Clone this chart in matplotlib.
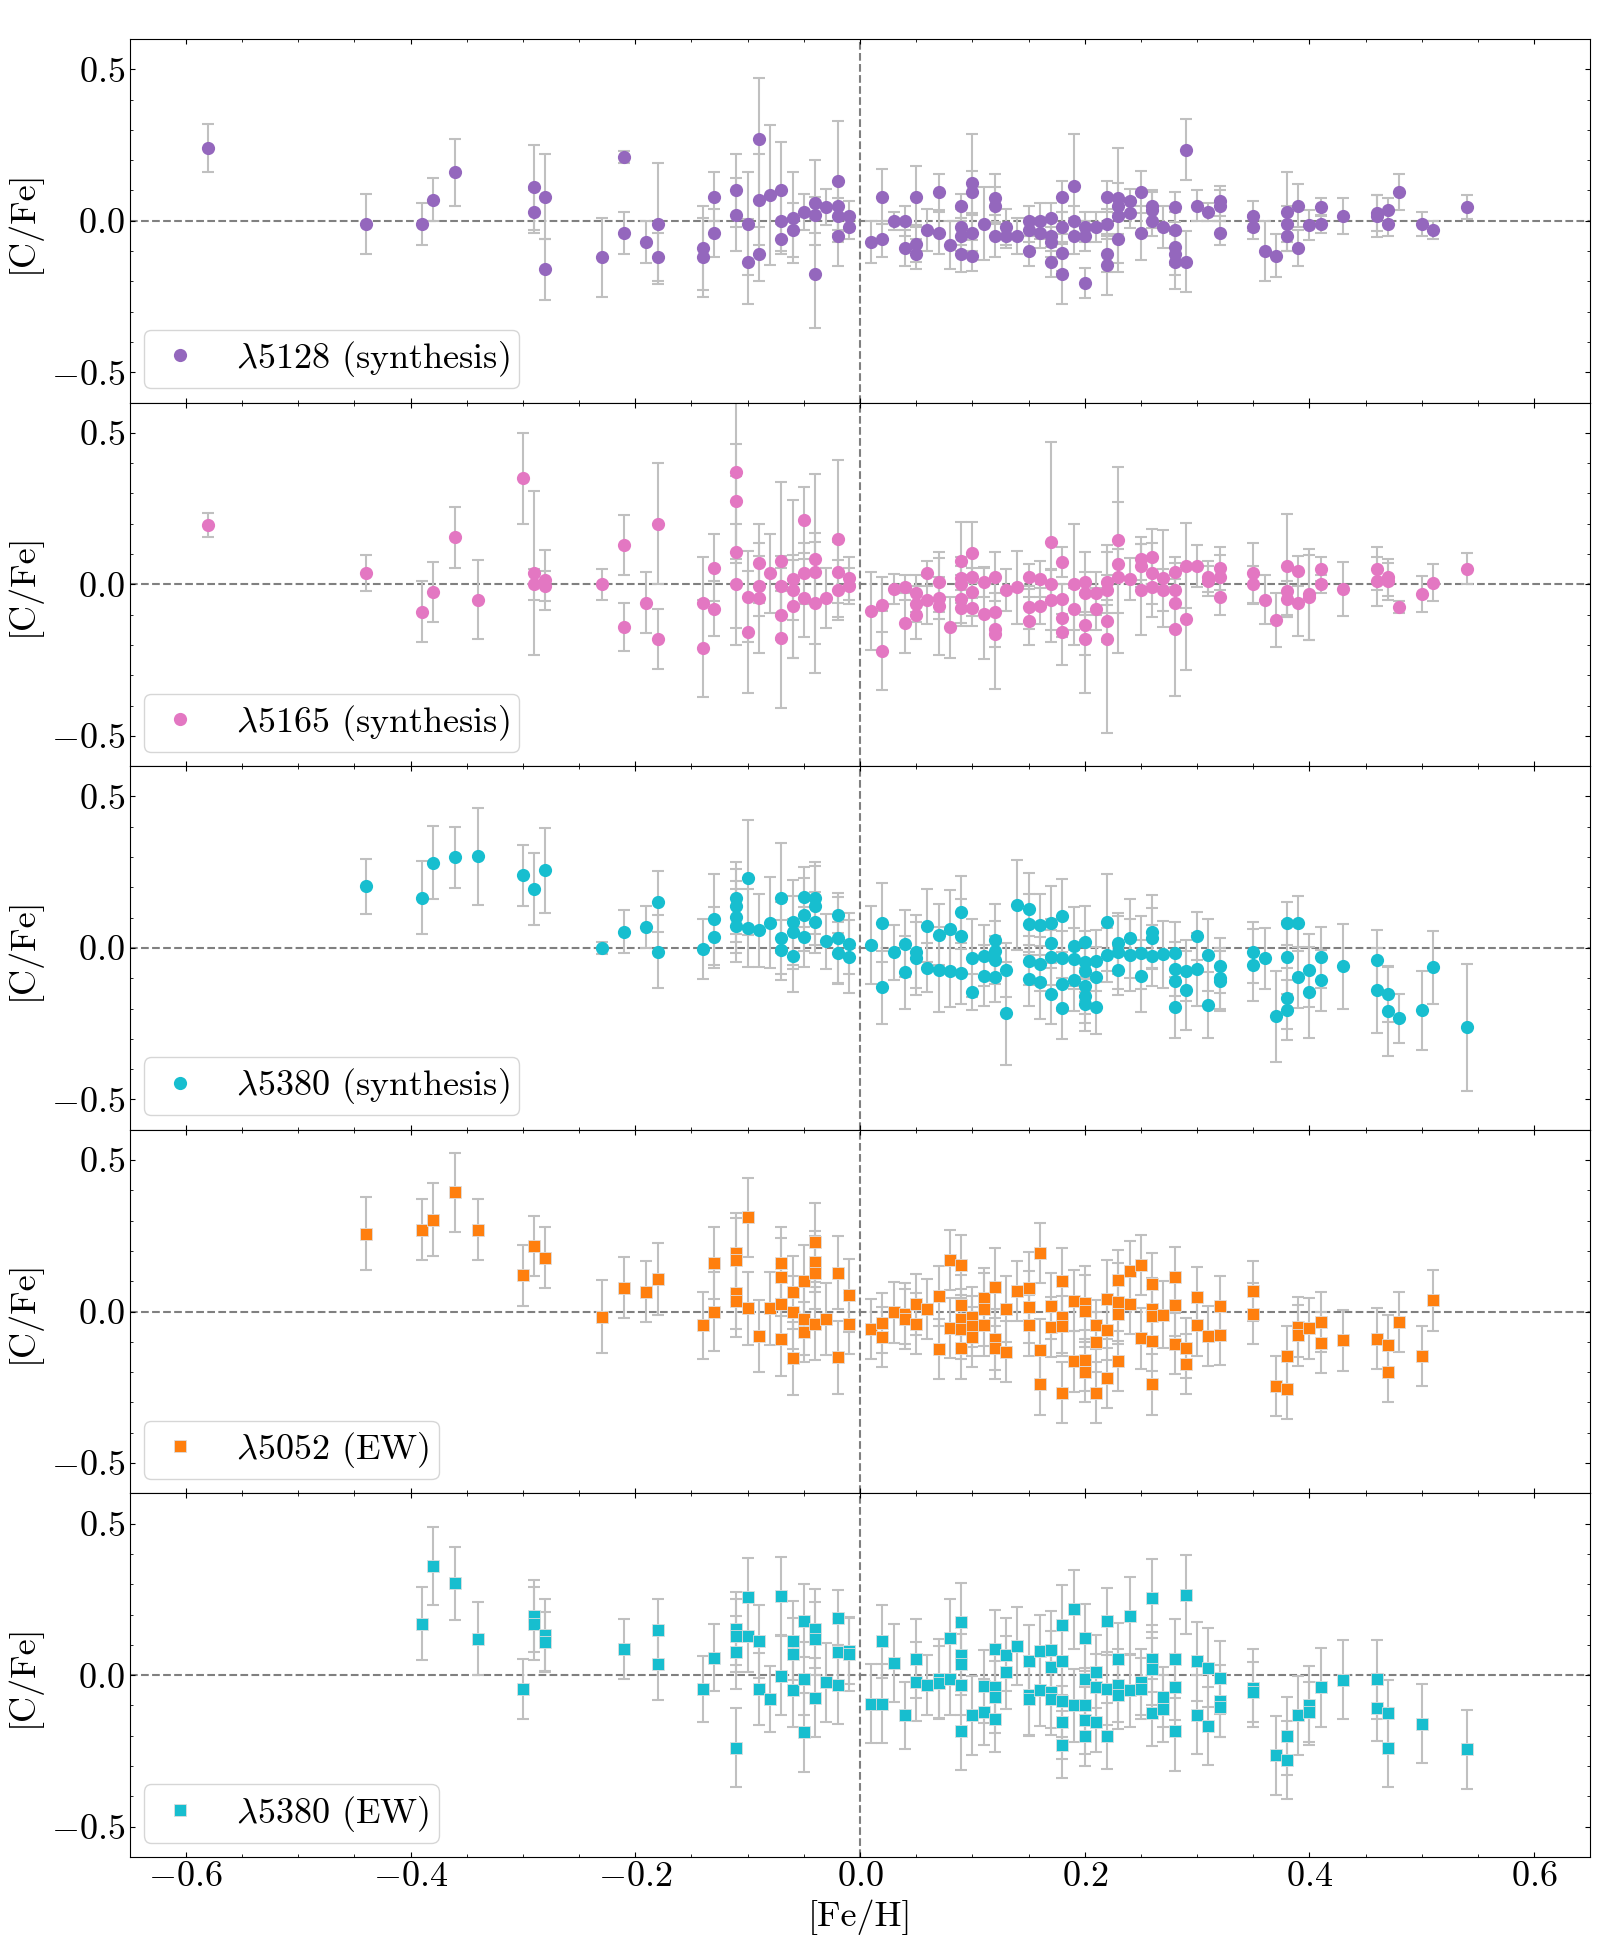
import matplotlib
matplotlib.use('Agg')
import matplotlib.pyplot as plt
from matplotlib.ticker import MultipleLocator

plt.rcParams['font.family'] = 'serif'
plt.rcParams['font.serif'] = ['cmr10', 'DejaVu Serif']
plt.rcParams['mathtext.fontset'] = 'cm'
plt.rcParams['axes.formatter.use_mathtext'] = True
plt.rcParams['axes.unicode_minus'] = True

# ---------------- Panel 1: lambda 5128 (synthesis) ----------------
x1 = [-0.58, -0.44, -0.39, -0.38, -0.36, -0.29, -0.29, -0.28, -0.28, -0.23, -0.21, -0.21, -0.19, -0.18, -0.18,
      -0.14, -0.14, -0.13, -0.13, -0.11, -0.11, -0.10, -0.10, -0.09, -0.09, -0.09, -0.08, -0.07, -0.07, -0.07,
      -0.06, -0.06, -0.05, -0.04, -0.04, -0.04, -0.03, -0.02, -0.02, -0.02, -0.02, -0.01, -0.01,
      0.01, 0.02, 0.02, 0.03, 0.04, 0.04, 0.05, 0.05, 0.05, 0.06, 0.07, 0.07, 0.08, 0.09, 0.09, 0.09, 0.09,
      0.10, 0.10, 0.10, 0.10, 0.11, 0.12, 0.12, 0.12, 0.13, 0.13, 0.14, 0.15, 0.15, 0.15, 0.16, 0.16,
      0.17, 0.17, 0.17, 0.17, 0.18, 0.18, 0.18, 0.18, 0.19, 0.19, 0.19, 0.20, 0.20, 0.20, 0.21,
      0.22, 0.22, 0.22, 0.22, 0.23, 0.23, 0.23, 0.23, 0.24, 0.24, 0.25, 0.25, 0.26, 0.26, 0.26, 0.27,
      0.28, 0.28, 0.28, 0.28, 0.28, 0.29, 0.29, 0.30, 0.31, 0.32, 0.32, 0.32, 0.35, 0.35, 0.36, 0.37,
      0.38, 0.38, 0.38, 0.39, 0.39, 0.40, 0.41, 0.41, 0.43, 0.46, 0.46, 0.47, 0.47, 0.48, 0.50, 0.51, 0.54]
y1 = [0.24, -0.01, -0.01, 0.07, 0.16, 0.11, 0.03, 0.08, -0.16, -0.12, 0.21, -0.04, -0.07, -0.01, -0.12,
      -0.09, -0.12, 0.08, -0.04, 0.10, 0.02, -0.01, -0.135, 0.27, 0.07, -0.11, 0.085, 0.10, 0.0, -0.06,
      0.01, -0.03, 0.03, 0.06, 0.02, -0.175, 0.045, 0.13, 0.05, 0.015, -0.05, 0.015, -0.02,
      -0.07, 0.08, -0.06, 0.0, 0.0, -0.09, 0.08, -0.075, -0.11, -0.03, 0.095, -0.04, -0.08, 0.05, -0.02, -0.05, -0.11,
      0.125, 0.095, -0.04, -0.115, -0.01, 0.075, 0.05, -0.05, -0.02, -0.05, -0.05, 0.0, -0.03, -0.10, 0.0, -0.04,
      0.01, -0.05, -0.07, -0.135, 0.08, -0.02, -0.105, -0.175, 0.115, 0.0, -0.05, -0.02, -0.05, -0.205, -0.02,
      0.08, -0.01, -0.11, -0.145, 0.075, 0.05, 0.015, -0.06, 0.065, 0.025, 0.095, -0.04, 0.05, 0.035, 0.0, -0.02,
      0.045, -0.03, -0.085, -0.11, -0.135, 0.235, -0.135, 0.05, 0.03, 0.065, 0.05, -0.04, 0.015, -0.02, -0.10, -0.115,
      0.03, -0.01, -0.05, 0.05, -0.09, -0.015, 0.045, -0.01, 0.015, 0.025, 0.015, 0.035, -0.01, 0.095, -0.01, -0.03, 0.045]
e1 = [0.08, 0.10, 0.07, 0.07, 0.11, 0.14, 0.07, 0.14, 0.10, 0.13, 0.02, 0.07, 0.07, 0.20, 0.08,
      0.14, 0.13, 0.08, 0.08, 0.12, 0.12, 0.17, 0.14, 0.20, 0.15, 0.09, 0.23, 0.16, 0.10, 0.05,
      0.15, 0.09, 0.06, 0.14, 0.06, 0.18, 0.06, 0.20, 0.08, 0.06, 0.10, 0.05, 0.04,
      0.07, 0.09, 0.06, 0.03, 0.05, 0.06, 0.10, 0.06, 0.05, 0.07, 0.06, 0.07, 0.08, 0.04, 0.06, 0.05, 0.06,
      0.16, 0.07, 0.06, 0.05, 0.12, 0.08, 0.06, 0.07, 0.06, 0.04, 0.06, 0.05, 0.04, 0.05, 0.06, 0.05,
      0.05, 0.05, 0.05, 0.05, 0.05, 0.05, 0.06, 0.10, 0.17, 0.05, 0.06, 0.05, 0.05, 0.05, 0.05,
      0.05, 0.05, 0.06, 0.10, 0.05, 0.19, 0.06, 0.11, 0.04, 0.05, 0.07, 0.09, 0.05, 0.06, 0.05, 0.07,
      0.05, 0.06, 0.06, 0.07, 0.09, 0.10, 0.10, 0.05, 0.03, 0.05, 0.05, 0.04, 0.05, 0.04, 0.10, 0.07,
      0.13, 0.06, 0.05, 0.07, 0.06, 0.05, 0.03, 0.03, 0.06, 0.06, 0.07, 0.04, 0.04, 0.06, 0.04, 0.03, 0.04]

# ---------------- Panel 2: lambda 5165 (synthesis) ----------------
x2 = [-0.58, -0.44, -0.39, -0.38, -0.36, -0.34, -0.30, -0.29, -0.29, -0.28, -0.28, -0.23, -0.21, -0.21, -0.19, -0.18, -0.18,
      -0.14, -0.14, -0.13, -0.13, -0.11, -0.11, -0.11, -0.11, -0.10, -0.10, -0.09, -0.09, -0.09, -0.08,
      -0.07, -0.07, -0.07, -0.07, -0.06, -0.06, -0.06, -0.05, -0.05, -0.05, -0.04, -0.04, -0.04, -0.03,
      -0.02, -0.02, -0.02, -0.01, -0.01,
      0.01, 0.02, 0.02, 0.03, 0.04, 0.04, 0.05, 0.05, 0.05, 0.06, 0.06, 0.07, 0.07, 0.07, 0.08,
      0.09, 0.09, 0.09, 0.09, 0.09, 0.10, 0.10, 0.10, 0.10, 0.11, 0.11, 0.12, 0.12, 0.12, 0.12, 0.13, 0.14,
      0.15, 0.15, 0.15, 0.16, 0.16, 0.17, 0.17, 0.17, 0.18, 0.18, 0.18, 0.18, 0.19, 0.19,
      0.20, 0.20, 0.20, 0.20, 0.21, 0.21, 0.22, 0.22, 0.22, 0.22, 0.23, 0.23, 0.23, 0.24,
      0.25, 0.25, 0.25, 0.26, 0.26, 0.26, 0.27, 0.27, 0.28, 0.28, 0.28, 0.28, 0.29, 0.29, 0.30, 0.31, 0.31,
      0.32, 0.32, 0.32, 0.35, 0.35, 0.36, 0.37, 0.38, 0.38, 0.38, 0.39, 0.39, 0.40, 0.40, 0.41, 0.41,
      0.43, 0.46, 0.46, 0.47, 0.47, 0.48, 0.50, 0.51, 0.54]
y2 = [0.195, 0.037, -0.09, -0.025, 0.155, -0.05, 0.35, 0.037, 0.0, 0.015, -0.005, 0.0, 0.13, -0.14, -0.06, 0.20, -0.18,
      -0.06, -0.21, 0.055, -0.08, 0.37, 0.275, 0.107, 0.0, -0.04, -0.157, 0.07, -0.005, -0.045, 0.036,
      0.077, -0.005, -0.102, -0.177, 0.018, -0.018, -0.072, 0.212, 0.036, -0.045, 0.083, 0.04, -0.062, -0.045,
      0.151, 0.04, -0.018, 0.02, -0.005,
      -0.088, -0.067, -0.219, -0.015, -0.01, -0.127, -0.03, -0.065, -0.101, 0.036, -0.052, 0.008, -0.045, -0.072, -0.142,
      0.077, 0.02, 0.0, -0.048, -0.078, 0.105, 0.026, -0.025, -0.078, 0.008, -0.097, 0.026, -0.09, -0.147, -0.164, -0.018, -0.01,
      0.026, -0.076, -0.121, 0.018, -0.072, 0.14, 0.0, -0.052, 0.075, -0.048, -0.112, -0.156, 0.0, -0.082,
      0.008, -0.03, -0.134, -0.18, -0.03, -0.082, 0.007, -0.018, -0.121, -0.18, 0.146, 0.067, 0.023, 0.018,
      0.085, 0.062, -0.018, 0.092, 0.036, -0.007, 0.02, -0.018, 0.04, -0.018, -0.062, -0.148, 0.062, -0.114, 0.06, 0.026, 0.012,
      0.053, 0.026, -0.042, 0.036, 0.0, -0.05, -0.117, 0.062, -0.021, -0.048, 0.045, -0.06, -0.032, -0.043, 0.052, 0.0,
      -0.015, 0.052, 0.01, 0.023, 0.01, -0.074, -0.031, 0.006, 0.052]
e2 = [0.04, 0.06, 0.10, 0.10, 0.10, 0.13, 0.15, 0.27, 0.05, 0.10, 0.05, 0.05, 0.10, 0.08, 0.10, 0.20, 0.10,
      0.15, 0.16, 0.11, 0.09, 0.30, 0.19, 0.25, 0.20, 0.15, 0.20, 0.13, 0.10, 0.18, 0.13,
      0.26, 0.10, 0.08, 0.23, 0.26, 0.10, 0.17, 0.11, 0.10, 0.13, 0.28, 0.10, 0.23, 0.10,
      0.26, 0.10, 0.10, 0.07, 0.06,
      0.13, 0.09, 0.13, 0.05, 0.04, 0.10, 0.06, 0.06, 0.08, 0.04, 0.08, 0.10, 0.07, 0.16, 0.10,
      0.13, 0.07, 0.06, 0.08, 0.06, 0.10, 0.07, 0.08, 0.06, 0.05, 0.15, 0.08, 0.06, 0.06, 0.18, 0.07, 0.12,
      0.04, 0.07, 0.08, 0.06, 0.06, 0.33, 0.05, 0.10, 0.05, 0.05, 0.06, 0.11, 0.20, 0.07,
      0.10, 0.07, 0.10, 0.18, 0.07, 0.07, 0.10, 0.05, 0.07, 0.31, 0.24, 0.05, 0.25, 0.07,
      0.07, 0.07, 0.15, 0.09, 0.10, 0.10, 0.16, 0.07, 0.05, 0.05, 0.08, 0.22, 0.14, 0.17, 0.07, 0.05, 0.05,
      0.07, 0.07, 0.06, 0.10, 0.06, 0.08, 0.09, 0.17, 0.08, 0.06, 0.05, 0.11, 0.15, 0.14, 0.04, 0.03,
      0.09, 0.07, 0.08, 0.06, 0.06, 0.02, 0.06, 0.06, 0.05]

# ---------------- Panel 3: lambda 5380 (synthesis) ----------------
x3 = [-0.44, -0.39, -0.38, -0.36, -0.34, -0.30, -0.29, -0.28, -0.23, -0.21, -0.19, -0.18, -0.18,
      -0.14, -0.13, -0.13, -0.11, -0.11, -0.11, -0.11, -0.10, -0.10, -0.09, -0.08, -0.07, -0.07, -0.07,
      -0.06, -0.06, -0.06, -0.05, -0.05, -0.05, -0.04, -0.04, -0.04, -0.03, -0.02, -0.02, -0.02, -0.01, -0.01,
      0.01, 0.02, 0.02, 0.03, 0.04, 0.04, 0.05, 0.05, 0.06, 0.06, 0.07, 0.07, 0.08, 0.08, 0.09, 0.09, 0.09,
      0.10, 0.10, 0.11, 0.11, 0.12, 0.12, 0.12, 0.12, 0.13, 0.13, 0.14, 0.15, 0.15, 0.15, 0.15,
      0.16, 0.16, 0.16, 0.17, 0.17, 0.17, 0.17, 0.18, 0.18, 0.18, 0.18, 0.19, 0.19, 0.19,
      0.20, 0.20, 0.20, 0.20, 0.20, 0.20, 0.21, 0.21, 0.21, 0.22, 0.22, 0.23, 0.23, 0.23, 0.24, 0.24,
      0.25, 0.25, 0.26, 0.26, 0.26, 0.27, 0.28, 0.28, 0.28, 0.28, 0.29, 0.29, 0.30, 0.30, 0.31, 0.31,
      0.32, 0.32, 0.32, 0.35, 0.35, 0.36, 0.37, 0.38, 0.38, 0.38, 0.38, 0.39, 0.39, 0.40, 0.40, 0.41, 0.41,
      0.43, 0.46, 0.46, 0.47, 0.47, 0.48, 0.50, 0.51, 0.54]
y3 = [0.203, 0.166, 0.282, 0.299, 0.303, 0.24, 0.195, 0.257, 0.0, 0.054, 0.07, 0.153, -0.012,
      -0.003, 0.095, 0.035, 0.165, 0.14, 0.102, 0.074, 0.232, 0.066, 0.058, 0.083, 0.165, 0.033, -0.007,
      0.085, 0.052, -0.025, 0.168, 0.11, 0.036, 0.165, 0.139, 0.085, 0.022, 0.109, 0.032, -0.015, 0.014, -0.029,
      0.01, 0.083, -0.13, -0.014, 0.014, -0.08, -0.012, -0.034, 0.074, -0.065, 0.044, -0.072, 0.062, -0.075, 0.118, 0.041, -0.084,
      -0.033, -0.146, -0.025, -0.091, 0.026, -0.01, -0.039, -0.097, -0.072, -0.216, 0.142, 0.129, 0.078, -0.042, -0.103,
      0.077, -0.053, -0.113, 0.083, 0.015, -0.031, -0.151, 0.107, -0.034, -0.118, -0.199, 0.006, -0.035, -0.107,
      0.019, -0.045, -0.075, -0.127, -0.157, -0.185, -0.042, -0.097, -0.194, 0.085, -0.023, 0.015, -0.014, -0.074, 0.032, -0.023,
      -0.015, -0.092, 0.054, 0.032, -0.025, -0.021, -0.015, -0.069, -0.11, -0.196, -0.075, -0.14, 0.039, -0.07, -0.023, -0.188,
      -0.058, -0.10, -0.109, -0.014, -0.056, -0.034, -0.226, 0.081, -0.031, -0.166, -0.204, 0.081, -0.097, -0.074, -0.146, -0.031, -0.107,
      -0.06, -0.041, -0.139, -0.153, -0.208, -0.232, -0.206, -0.064, -0.262]
e3 = [0.09, 0.12, 0.12, 0.10, 0.16, 0.10, 0.12, 0.14, 0.02, 0.07, 0.07, 0.10, 0.12,
      0.10, 0.15, 0.10, 0.12, 0.12, 0.12, 0.12, 0.19, 0.13, 0.12, 0.15, 0.18, 0.12, 0.10,
      0.14, 0.12, 0.12, 0.10, 0.12, 0.10, 0.12, 0.13, 0.10, 0.09, 0.06, 0.15, 0.10, 0.10, 0.12,
      0.13, 0.13, 0.12, 0.09, 0.11, 0.12, 0.12, 0.12, 0.12, 0.08, 0.10, 0.14, 0.13, 0.12, 0.12, 0.12, 0.10,
      0.13, 0.06, 0.10, 0.10, 0.12, 0.10, 0.08, 0.08, 0.09, 0.17, 0.15, 0.12, 0.10, 0.08, 0.09,
      0.10, 0.09, 0.12, 0.12, 0.08, 0.09, 0.10, 0.12, 0.09, 0.09, 0.10, 0.13, 0.10, 0.10,
      0.12, 0.10, 0.10, 0.09, 0.09, 0.09, 0.10, 0.10, 0.09, 0.16, 0.09, 0.10, 0.12, 0.08, 0.13, 0.12,
      0.12, 0.12, 0.12, 0.10, 0.10, 0.11, 0.10, 0.09, 0.09, 0.10, 0.10, 0.13, 0.08, 0.12, 0.12, 0.11,
      0.09, 0.10, 0.10, 0.10, 0.12, 0.10, 0.15, 0.07, 0.12, 0.10, 0.10, 0.09, 0.10, 0.12, 0.15, 0.10, 0.10,
      0.14, 0.10, 0.14, 0.09, 0.15, 0.08, 0.13, 0.12, 0.21]

# ---------------- Panel 4: lambda 5052 (EW) ----------------
x4 = [-0.44, -0.39, -0.38, -0.36, -0.34, -0.30, -0.29, -0.28, -0.23, -0.21, -0.19, -0.18,
      -0.14, -0.13, -0.13, -0.11, -0.11, -0.11, -0.11, -0.10, -0.10, -0.09, -0.08, -0.07, -0.07, -0.07, -0.07,
      -0.06, -0.06, -0.06, -0.05, -0.05, -0.05, -0.04, -0.04, -0.04, -0.04, -0.03, -0.02, -0.02, -0.01, -0.01,
      0.01, 0.02, 0.02, 0.03, 0.04, 0.04, 0.05, 0.05, 0.06, 0.07, 0.07, 0.08, 0.08,
      0.09, 0.09, 0.09, 0.09, 0.09, 0.10, 0.10, 0.10, 0.11, 0.11, 0.11, 0.12, 0.12, 0.12, 0.13, 0.13, 0.14,
      0.15, 0.15, 0.15, 0.16, 0.16, 0.16, 0.17, 0.17, 0.18, 0.18, 0.18, 0.18, 0.19, 0.19,
      0.20, 0.20, 0.20, 0.20, 0.21, 0.21, 0.21, 0.22, 0.22, 0.22, 0.23, 0.23, 0.23, 0.23, 0.24, 0.24,
      0.25, 0.25, 0.26, 0.26, 0.26, 0.26, 0.26, 0.27, 0.28, 0.28, 0.28, 0.29, 0.29, 0.30, 0.30, 0.31,
      0.32, 0.32, 0.35, 0.35, 0.37, 0.38, 0.38, 0.39, 0.39, 0.40, 0.41, 0.41, 0.43, 0.46, 0.47, 0.47,
      0.48, 0.50, 0.51]
y4 = [0.257, 0.27, 0.303, 0.394, 0.27, 0.12, 0.216, 0.178, -0.017, 0.079, 0.066, 0.108,
      -0.045, 0.16, 0.0, 0.194, 0.17, 0.062, 0.035, 0.311, 0.011, -0.081, 0.011, 0.16, 0.114, 0.026, -0.091,
      0.064, -0.003, -0.154, 0.101, -0.024, -0.067, 0.229, 0.165, 0.128, -0.04, -0.024, 0.128, -0.151, 0.054, -0.04,
      -0.058, -0.037, -0.084, -0.003, -0.007, -0.024, 0.024, -0.04, 0.009, 0.052, -0.123, 0.17, -0.054,
      0.154, 0.022, -0.024, -0.056, -0.121, -0.018, -0.047, -0.084, 0.044, 0.007, -0.045, 0.081, -0.092, -0.121, 0.008, -0.132, 0.068,
      0.077, 0.015, -0.045, 0.194, -0.126, -0.24, 0.018, -0.051, 0.101, -0.018, -0.047, -0.268, 0.036, -0.164,
      0.029, 0.002, -0.161, -0.20, -0.043, -0.101, -0.268, 0.04, -0.06, -0.219, 0.103, 0.032, -0.007, -0.163, 0.134, 0.026,
      0.154, -0.088, 0.092, 0.01, -0.015, -0.097, -0.24, -0.01, 0.114, 0.021, -0.106, -0.12, -0.173, 0.047, -0.045, -0.081,
      0.018, -0.077, 0.068, -0.007, -0.246, -0.146, -0.256, -0.051, -0.078, -0.055, -0.034, -0.103, -0.095, -0.089, -0.11, -0.20,
      -0.034, -0.146, 0.037]
e4 = [0.12, 0.10, 0.12, 0.13, 0.10, 0.10, 0.10, 0.10, 0.12, 0.10, 0.10, 0.12,
      0.11, 0.12, 0.13, 0.13, 0.14, 0.12, 0.12, 0.13, 0.12, 0.12, 0.12, 0.12, 0.13, 0.13, 0.12,
      0.12, 0.12, 0.12, 0.12, 0.12, 0.10, 0.13, 0.10, 0.12, 0.12, 0.12, 0.12, 0.12, 0.12, 0.10,
      0.10, 0.10, 0.10, 0.10, 0.10, 0.10, 0.10, 0.10, 0.10, 0.10, 0.10, 0.10, 0.10,
      0.10, 0.10, 0.10, 0.10, 0.10, 0.10, 0.10, 0.10, 0.10, 0.12, 0.10, 0.13, 0.10, 0.10, 0.11, 0.10, 0.10,
      0.12, 0.12, 0.10, 0.10, 0.10, 0.10, 0.11, 0.10, 0.11, 0.12, 0.10, 0.10, 0.10, 0.10,
      0.12, 0.12, 0.10, 0.10, 0.08, 0.10, 0.10, 0.13, 0.10, 0.10, 0.10, 0.13, 0.10, 0.10, 0.10, 0.10,
      0.10, 0.10, 0.10, 0.10, 0.10, 0.10, 0.10, 0.11, 0.10, 0.10, 0.10, 0.10, 0.10, 0.10, 0.10, 0.10,
      0.10, 0.10, 0.10, 0.10, 0.10, 0.10, 0.10, 0.10, 0.10, 0.10, 0.10, 0.10, 0.10, 0.10, 0.10, 0.10,
      0.10, 0.10, 0.10]

# ---------------- Panel 5: lambda 5380 (EW) ----------------
x5 = [-0.39, -0.38, -0.36, -0.34, -0.30, -0.29, -0.29, -0.28, -0.28, -0.21, -0.18, -0.18,
      -0.14, -0.13, -0.11, -0.11, -0.11, -0.11, -0.10, -0.10, -0.09, -0.09, -0.08, -0.07, -0.07,
      -0.06, -0.06, -0.06, -0.05, -0.05, -0.05, -0.04, -0.04, -0.04, -0.03, -0.02, -0.02, -0.02, -0.01, -0.01,
      0.01, 0.02, 0.02, 0.03, 0.04, 0.05, 0.05, 0.06, 0.07, 0.07, 0.08, 0.08,
      0.09, 0.09, 0.09, 0.09, 0.09, 0.10, 0.11, 0.11, 0.12, 0.12, 0.12, 0.12, 0.13, 0.13, 0.14,
      0.15, 0.15, 0.15, 0.16, 0.16, 0.17, 0.17, 0.17, 0.17, 0.18, 0.18, 0.18, 0.18, 0.18, 0.19, 0.19,
      0.20, 0.20, 0.20, 0.20, 0.20, 0.21, 0.21, 0.21, 0.22, 0.22, 0.22, 0.23, 0.23, 0.23, 0.24, 0.24,
      0.25, 0.25, 0.26, 0.26, 0.26, 0.26, 0.27, 0.27, 0.28, 0.28, 0.28, 0.29, 0.30, 0.30, 0.31, 0.31,
      0.32, 0.32, 0.32, 0.35, 0.35, 0.37, 0.38, 0.38, 0.39, 0.40, 0.40, 0.41, 0.43, 0.46, 0.46, 0.47, 0.47,
      0.50, 0.54]
y5 = [0.17, 0.36, 0.303, 0.12, -0.046, 0.195, 0.17, 0.133, 0.11, 0.087, 0.15, 0.037,
      -0.046, 0.058, 0.154, 0.13, 0.076, -0.239, 0.257, 0.13, 0.112, -0.046, -0.079, 0.261, -0.002,
      0.114, 0.069, -0.05, 0.18, -0.011, -0.189, 0.154, 0.121, -0.074, -0.023, 0.19, 0.076, -0.031, 0.081, 0.069,
      -0.094, 0.112, -0.094, 0.04, -0.133, 0.055, -0.022, -0.033, -0.011, -0.025, 0.122, -0.011,
      0.174, 0.066, 0.036, -0.031, -0.183, -0.132, -0.037, -0.122, 0.085, -0.039, -0.072, -0.143, 0.068, 0.01, 0.096,
      0.046, -0.066, -0.08, 0.079, -0.048, 0.083, 0.026, -0.055, -0.077, 0.167, 0.046, -0.085, -0.156, -0.229, 0.217, -0.099,
      0.124, -0.011, -0.097, -0.149, -0.20, 0.011, -0.039, -0.154, 0.178, -0.044, -0.201, 0.052, -0.033, -0.066, 0.195, -0.05,
      -0.022, -0.044, 0.254, 0.055, 0.022, -0.124, -0.072, -0.11, 0.055, -0.039, -0.185, 0.266, 0.046, -0.13, 0.025, -0.168,
      -0.008, -0.085, -0.105, -0.042, -0.055, -0.264, -0.201, -0.28, -0.132, -0.099, -0.121, -0.04, -0.015, -0.013, -0.107, -0.125, -0.239,
      -0.16, -0.245]
e5 = [0.12, 0.13, 0.12, 0.12, 0.10, 0.12, 0.12, 0.12, 0.10, 0.10, 0.10, 0.12,
      0.11, 0.11, 0.12, 0.12, 0.12, 0.13, 0.13, 0.12, 0.12, 0.12, 0.11, 0.13, 0.13,
      0.13, 0.12, 0.12, 0.12, 0.12, 0.13, 0.13, 0.12, 0.13, 0.13, 0.09, 0.11, 0.13, 0.11, 0.12,
      0.13, 0.12, 0.13, 0.13, 0.11, 0.13, 0.13, 0.10, 0.13, 0.12, 0.13, 0.12,
      0.13, 0.11, 0.10, 0.10, 0.13, 0.13, 0.12, 0.11, 0.13, 0.11, 0.12, 0.11, 0.12, 0.12, 0.13,
      0.12, 0.13, 0.12, 0.12, 0.12, 0.13, 0.12, 0.12, 0.12, 0.13, 0.11, 0.12, 0.12, 0.11, 0.13, 0.12,
      0.11, 0.12, 0.12, 0.11, 0.10, 0.12, 0.11, 0.10, 0.11, 0.12, 0.11, 0.12, 0.12, 0.11, 0.13, 0.12,
      0.11, 0.10, 0.13, 0.11, 0.12, 0.11, 0.10, 0.11, 0.13, 0.11, 0.13, 0.13, 0.13, 0.13, 0.13, 0.13,
      0.12, 0.12, 0.10, 0.13, 0.10, 0.13, 0.13, 0.13, 0.13, 0.13, 0.10, 0.13, 0.13, 0.13, 0.11, 0.11, 0.13,
      0.13, 0.13]

labels = [r'$\lambda$5128 (synthesis)', r'$\lambda$5165 (synthesis)', r'$\lambda$5380 (synthesis)',
          r'$\lambda$5052 (EW)', r'$\lambda$5380 (EW)']
colors = ['#9467bd', '#e377c2', '#17becf', '#ff7f0e', '#17becf']
markers = ['o', 'o', 'o', 's', 's']
xs = [x1, x2, x3, x4, x5]
ys = [y1, y2, y3, y4, y5]
es = [e1, e2, e3, e4, e5]

FS = 26
fig, axes = plt.subplots(5, 1, figsize=(16, 19.5), dpi=100, sharex=True)
fig.subplots_adjust(left=0.081, right=0.994, top=0.98, bottom=0.0477, hspace=0)

for ax, x, y, e, c, m, lab in zip(axes, xs, ys, es, colors, markers, labels):
    ax.axhline(0, color='gray', ls='--', lw=1.5, zorder=1)
    ax.axvline(0, color='gray', ls='--', lw=1.5, zorder=1)
    ax.errorbar(x, y, yerr=e, fmt='none', ecolor='silver', elinewidth=1.5,
                capsize=4.5, capthick=1.5, zorder=2)
    if m == 's':
        ax.plot(x, y, m, color=c, ms=8.5, mec='#dddddd', mew=0.6, label=lab, zorder=3)
    else:
        ax.plot(x, y, m, color=c, ms=9.5, mec=c, mew=0, label=lab, zorder=3)
    ax.set_xlim(-0.65, 0.65)
    ax.set_ylim(-0.6, 0.6)
    ax.xaxis.set_major_locator(MultipleLocator(0.2))
    ax.xaxis.set_minor_locator(MultipleLocator(0.05))
    ax.yaxis.set_major_locator(MultipleLocator(0.5))
    ax.yaxis.set_minor_locator(MultipleLocator(0.1))
    ax.tick_params(which='both', direction='in', top=True, right=True, labelsize=FS)
    ax.tick_params(which='major', length=3.5)
    ax.tick_params(which='minor', length=2)
    ax.set_ylabel('[C/Fe]', fontsize=FS)
    ax.yaxis.set_label_coords(-0.061, 0.5)
    ax.legend(loc='lower left', fontsize=FS, numpoints=1, handlelength=1.5,
              borderpad=0.25, borderaxespad=0.4)

axes[-1].set_xlabel('[Fe/H]', fontsize=FS)

fig.savefig('out.png', dpi=100)
